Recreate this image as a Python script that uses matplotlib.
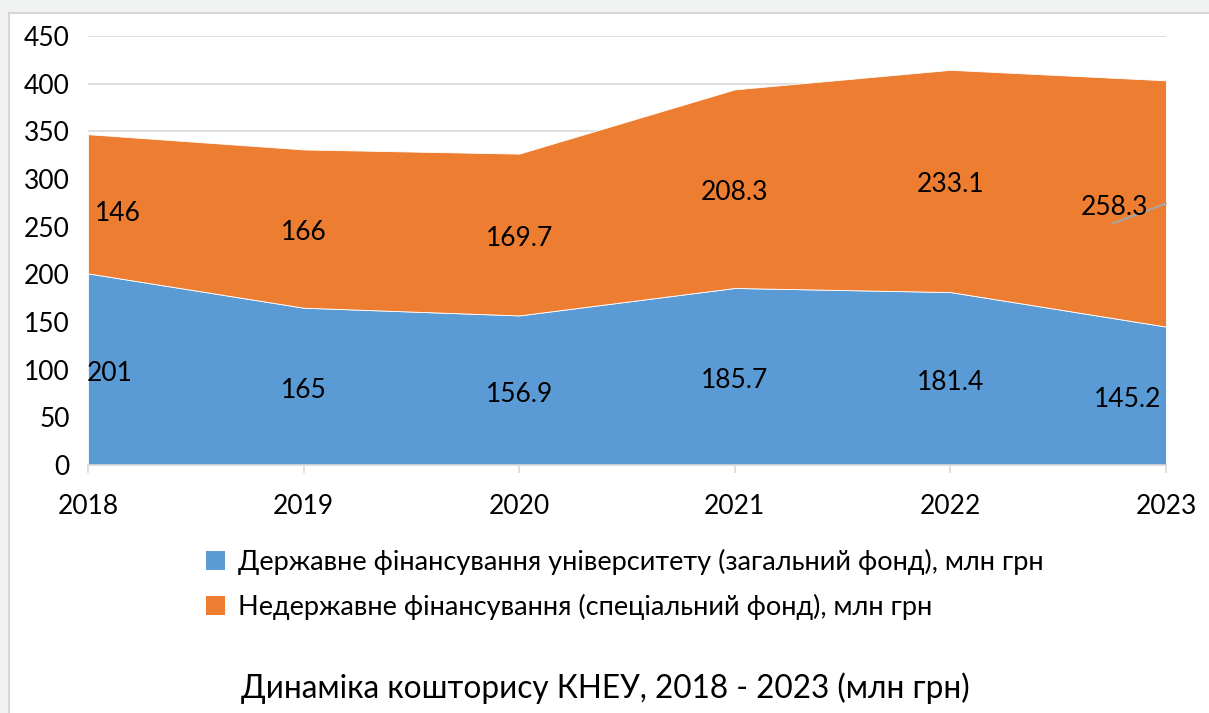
import numpy as np
import matplotlib.pyplot as plt
from matplotlib.patches import Rectangle, Patch

plt.rcParams['font.family'] = ['Lato', 'Open Sans', 'DejaVu Sans']

years = [2018, 2019, 2020, 2021, 2022, 2023]
state_fund = [201, 165, 156.9, 185.7, 181.4, 145.2]
special_fund = [146, 166, 169.7, 208.3, 233.1, 258.3]
state_labels = ["201", "165", "156.9", "185.7", "181.4", "145.2"]
special_labels = ["146", "166", "169.7", "208.3", "233.1", "258.3"]
series_names = ["Державне фінансування університету (загальний фонд), млн грн",
                "Недержавне фінансування (спеціальний фонд), млн грн"]
title = "Динаміка кошторису КНЕУ, 2018 - 2023 (млн грн)"

blue = "#5B9BD5"
orange = "#ED7D31"

fig = plt.figure(figsize=(12.09, 7.13), dpi=100)
fig.patch.set_facecolor("#f1f3f3")
# white chart box
fig.patches.append(Rectangle((9/1209, -0.05), 1.1, 1 - 13/713 + 0.05, transform=fig.transFigure,
                             facecolor="white", edgecolor="#d6d6d6", lw=1.5, zorder=-1))

ax = fig.add_axes([88/1209, 1 - 465/713, (1166 - 88)/1209, (465 - 36)/713])
ax.set_facecolor("white")
ax.set_zorder(2)

x = np.array(years)
b = np.array(state_fund)
o = np.array(special_fund)
ax.stackplot(x, b, o, colors=[blue, orange], edgecolor="white", linewidth=0.6, zorder=2)

ax.set_xlim(years[0], years[-1])
ax.set_ylim(0, 450)
ax.set_yticks(np.arange(0, 451, 50))
ax.set_xticks(years)
ax.grid(axis="y", color="#d9d9d9", lw=1.2, zorder=0)
for s in ["top", "right", "left"]:
    ax.spines[s].set_visible(False)
ax.spines["bottom"].set_color("#d9d9d9")
ax.spines["bottom"].set_linewidth(1.2)
ax.tick_params(axis="y", length=0, pad=13, labelsize=19)
ax.tick_params(axis="x", length=6, color="#d9d9d9", width=1.2, pad=15, labelsize=19)

# data labels (middle of each band), shifted inward at the edges
shift = [22, 0, 0, 0, 0, -38]
dy = -4
for i, yr in enumerate(years):
    ax.annotate(state_labels[i], (yr, b[i] / 2), xytext=(shift[i], dy), textcoords="offset pixels",
                ha="center", va="center", fontsize=19, zorder=5)
    ax.annotate(special_labels[i], (yr, b[i] + o[i] / 2),
                xytext=(shift[i] + 8 * (i == 0) - 13 * (i == 5), dy - 6 * (i == 0)),
                textcoords="offset pixels", ha="center", va="center", fontsize=19, zorder=5)

# leader line for last label
ax.annotate("", xy=(years[-1], b[-1] + o[-1] / 2), xytext=(-53, -20), textcoords="offset pixels",
            arrowprops=dict(arrowstyle="-", color="#a6a6a6", lw=1.5, shrinkA=0, shrinkB=0), zorder=4)

handles = [Patch(facecolor=blue), Patch(facecolor=orange)]
fig.legend(handles, series_names, loc="center left", bbox_to_anchor=(182/1209, 1 - 584/713),
           frameon=False, fontsize=19.5, handlelength=0.7, handleheight=0.7, handletextpad=0.45,
           labelspacing=0.7)

fig.text(605/1209, 1 - 688/713, title, ha="center", va="center", fontsize=22.7)

fig.savefig("out.png", dpi=100, facecolor=fig.get_facecolor())
